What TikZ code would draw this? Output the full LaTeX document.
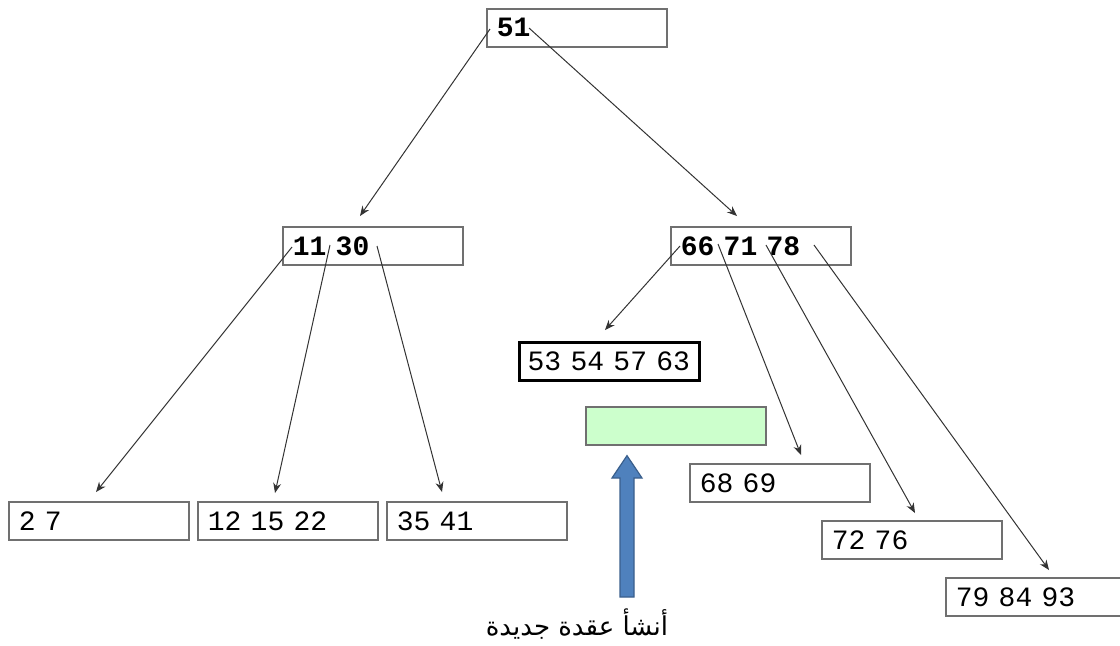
\documentclass[tikz,border=0pt]{standalone}
\usepackage{fontspec}
\setmonofont{Liberation Mono}
\newfontfamily\arabicfont[Script=Arabic]{DejaVu Sans}
\TeXXeTstate=1
\usetikzlibrary{arrows.meta}
\definecolor{boxgray}{HTML}{707070}
\definecolor{newgreen}{HTML}{CCFFCC}
\definecolor{arrowblue}{HTML}{4F81BD}
\definecolor{arrowedge}{HTML}{3A5F8C}
\tikzset{
  keybox/.style={draw=boxgray, line width=0.8pt, anchor=north west, minimum height=19pt,
    text width=80pt, inner xsep=5pt, align=left, font=\ttfamily\fontsize{14}{16}\selectfont},
  inbox/.style={keybox, font=\ttfamily\bfseries\fontsize{14}{16}\selectfont},
  ptr/.style={draw=black!80, line width=0.5pt, -{Stealth[length=5pt,width=4pt]}}
}
\begin{document}
\begin{tikzpicture}[x=0.5pt,y=-0.5pt]
                \useasboundingbox (0,0) rectangle (1120,645);
                \node[inbox] (n51) at (486,8) {51};
                \node[inbox] (n1130) at (282,226) {11 30};
                \node[inbox] (n667178) at (670,226) {66 71 78};
                \node[keybox, draw=black, line width=1.6pt, text width=86pt, inner xsep=2pt] (n53545763) at (518,341) {\hspace*{2pt}53 54 57 63};
                \node[keybox, fill=newgreen] (nnew) at (585,406) {};
                \node[keybox] (n6869) at (689,463) {68 69};
                \node[keybox] (n27) at (8,501) {2 7};
                \node[keybox] (n121522) at (197,501) {12 15 22};
                \node[keybox] (n3541) at (386,501) {35 41};
                \node[keybox] (n7276) at (821,520) {72 76};
                \node[keybox] (n798493) at (945,577) {79 84 93};
                % root
                \draw[ptr] ([shift={(4,21)}]n51.north west) -- ([shift={(78,-10)}]n1130.north west);
                \draw[ptr] ([shift={(43,20)}]n51.north west) -- ([shift={(67,-10)}]n667178.north west);
                % left child
                \draw[ptr] ([shift={(10,21)}]n1130.north west) -- ([shift={(88,-9)}]n27.north west);
                \draw[ptr] ([shift={(48,19)}]n1130.north west) -- ([shift={(78,-8)}]n121522.north west);
                \draw[ptr] ([shift={(95,20)}]n1130.north west) -- ([shift={(56,-9)}]n3541.north west);
                % right child
                \draw[ptr] ([shift={(10,20)}]n667178.north west) -- ([shift={(87,-11)}]n53545763.north west);
                \draw[ptr] ([shift={(48,18)}]n667178.north west) -- ([shift={(112,-8)}]n6869.north west);
                \draw[ptr] ([shift={(96,19)}]n667178.north west) -- ([shift={(94,-7)}]n7276.north west);
                \draw[ptr] ([shift={(144,19)}]n667178.north west) -- ([shift={(104,-7)}]n798493.north west);
                % new node arrow
                \node[font=\arabicfont\fontsize{13}{16}\selectfont] (lbl) at (577,624) {\beginR أنشأ عقدة جديدة\endR};
                \coordinate (tipbase) at (627,597);
                \filldraw[fill=arrowblue, draw=arrowedge, line width=0.6pt]
                  ([shift={(-7,0)}]tipbase) -- ++(0,-119) -- ++(-8,0) -- ([shift={(0,10)}]nnew.south -| tipbase)
                  -- ([shift={(15,-119)}]tipbase) -- ++(-8,0) -- ++(0,119) -- cycle;
\end{tikzpicture}
\end{document}
